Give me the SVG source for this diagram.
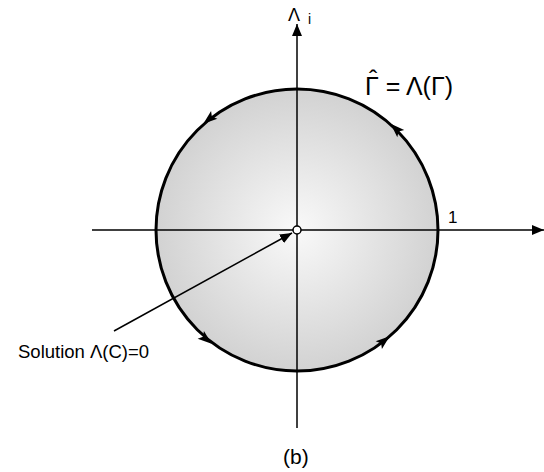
<svg xmlns="http://www.w3.org/2000/svg" width="544" height="472" viewBox="0 0 544 472">
<defs>
<radialGradient id="g" cx="0.5" cy="0.5" r="0.5">
<stop offset="0" stop-color="#f9f9f9"/>
<stop offset="1" stop-color="#d2d2d2"/>
</radialGradient>
<marker id="ah" viewBox="0 0 12 10" refX="12" refY="5" markerWidth="12" markerHeight="10" markerUnits="userSpaceOnUse" orient="auto">
<path d="M0,0 L12,5 L0,10 Z" fill="#000"/>
</marker>
<path id="ch" d="M6,0 L-8,-5 L-5,0 L-8,5 Z" fill="#000"/>
</defs>
<style>
text{font-family:"Liberation Sans",Arial,sans-serif;fill:#000}
.ax{stroke:#000;stroke-width:1.5;fill:none}
</style>
<g id="disk">
<circle cx="297" cy="230" r="141" fill="url(#g)" stroke="#000" stroke-width="3"/>
</g>
<g id="connectors">
<line class="ax" x1="92" y1="230" x2="544" y2="230" marker-end="url(#ah)"/>
<line class="ax" x1="297" y1="428" x2="297" y2="24" marker-end="url(#ah)"/>
<line class="ax" x1="114" y1="331" x2="292" y2="233" marker-end="url(#ah)"/>
<use href="#ch" transform="translate(208,120) rotate(141)"/>
<use href="#ch" transform="translate(395,128) rotate(-136)"/>
<use href="#ch" transform="translate(207,340) rotate(39)"/>
<use href="#ch" transform="translate(385,340) rotate(-39)"/>
</g>
<g id="origin">
<circle cx="297" cy="230" r="4" fill="#fff" stroke="#000" stroke-width="1.5"/>
</g>
<g id="labels">
<text x="288" y="21" font-size="18">Λ</text>
<text x="308" y="24" font-size="14">i</text>
<text font-size="25"><tspan x="365" y="95">Γ = Λ(Γ)</tspan><tspan x="369" y="88">ˆ</tspan></text>
<text x="448" y="223" font-size="17">1</text>
<text x="18" y="358" font-size="18.5">Solution Λ(C)=0</text>
<text x="283" y="464" font-size="21">(b)</text>
</g>
</svg>
